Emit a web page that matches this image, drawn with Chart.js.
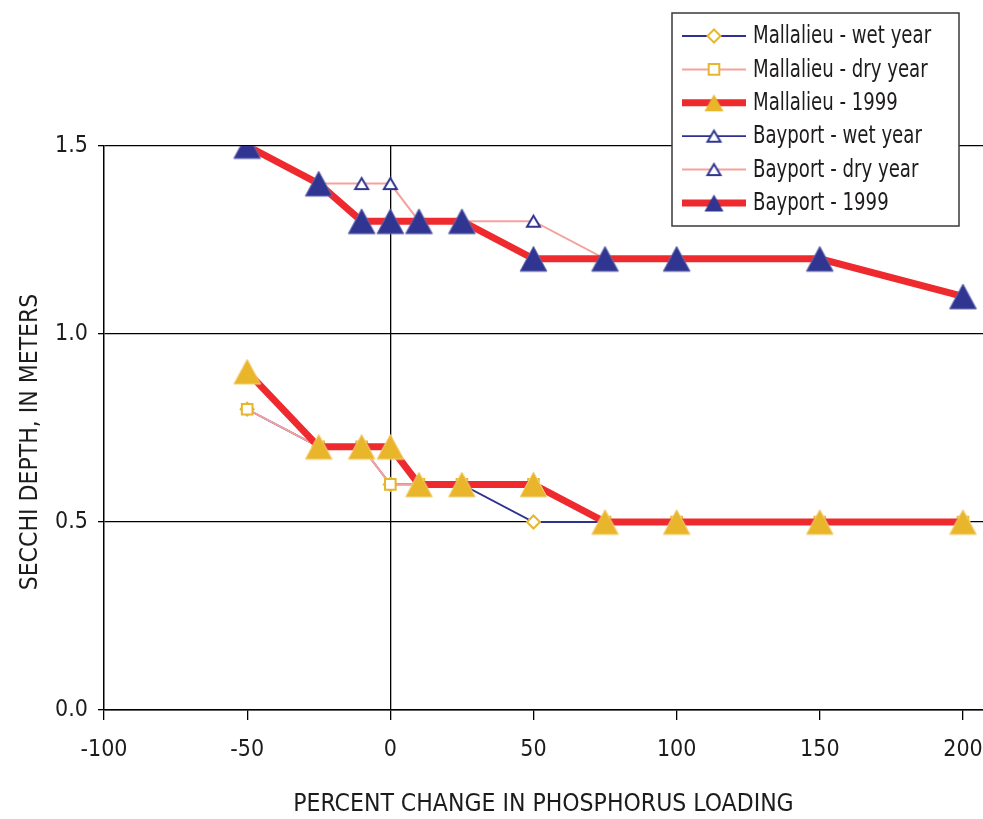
<!DOCTYPE html>
<html><head><meta charset="utf-8">
<script src="https://cdn.jsdelivr.net/npm/chart.js@4/dist/chart.umd.min.js"></script>
<style>html,body{margin:0;padding:0;background:#fff}#wrap{width:983px;height:819px;position:relative}</style>
</head><body><div id="wrap"><canvas id="c" width="983" height="819"></canvas></div>
<script>
const xValues = [-50, -25, -10, 0, 10, 25, 50, 75, 100, 150, 200];
const mallalieuWet = [0.8, 0.7, 0.7, 0.6, 0.6, 0.6, 0.5, 0.5, 0.5, 0.5, 0.5];
const mallalieuDry = [0.8, 0.7, 0.7, 0.6, 0.6, 0.6, 0.6, 0.5, 0.5, 0.5, 0.5];
const mallalieu1999 = [0.9, 0.7, 0.7, 0.7, 0.6, 0.6, 0.6, 0.5, 0.5, 0.5, 0.5];
const bayportWet = [1.5, 1.4, 1.3, 1.3, 1.3, 1.3, 1.2, 1.2, 1.2, 1.2, 1.1];
const bayportDry = [1.5, 1.4, 1.4, 1.4, 1.3, 1.3, 1.3, 1.2, 1.2, 1.2, 1.1];
const bayport1999 = [1.5, 1.4, 1.3, 1.3, 1.3, 1.3, 1.2, 1.2, 1.2, 1.2, 1.1];
const seriesNames = ['Mallalieu - wet year', 'Mallalieu - dry year', 'Mallalieu - 1999',
                     'Bayport - wet year', 'Bayport - dry year', 'Bayport - 1999'];
const xTickValues = [-100, -50, 0, 50, 100, 150, 200];
const yTickValues = [0, 0.5, 1.0, 1.5];
const xTitle = 'PERCENT CHANGE IN PHOSPHORUS LOADING';
const yTitle = 'SECCHI DEPTH, IN METERS';

const FONT = '"DejaVu Sans Condensed", "DejaVu Sans", sans-serif';
const TEXT = '#1E1B1C';
const RED = '#EE2A2F', NAVY = '#2F3590', GOLD = '#E8B52B', PINK = '#F5A29E', BLUE = '#2E3192';

// triangle marker images (centered on the data point)
function makeTri(w, h, fill, stroke, lw) {
  const pad = Math.ceil(lw) + 1;
  const c = document.createElement('canvas');
  c.width = w + 2 * pad; c.height = h + 2 * pad;
  const g = c.getContext('2d');
  g.beginPath();
  g.moveTo(pad + w / 2, pad);
  g.lineTo(pad + w, pad + h);
  g.lineTo(pad, pad + h);
  g.closePath();
  g.fillStyle = fill; g.fill();
  if (lw > 0) { g.lineJoin = 'miter'; g.strokeStyle = stroke; g.lineWidth = lw; g.stroke(); }
  return c;
}
const triGoldBig = makeTri(27, 25, GOLD, '#F3D585', 1);
const triNavyBig = makeTri(27, 25, NAVY, '#6A6FB0', 1);
const triOpen = makeTri(13, 11, '#fff', NAVY, 2);
const triGoldLeg = makeTri(19, 17, GOLD, GOLD, 0);
const triNavyLeg = makeTri(19, 17, NAVY, NAVY, 0);

function pts(vals) { return xValues.map((x, i) => ({x: x, y: vals[i]})); }
function ds(label, vals, o) {
  return Object.assign({label, data: pts(vals), tension: 0, fill: false, showLine: true}, o);
}

const datasets = [
  ds(seriesNames[0], mallalieuWet, {borderColor: BLUE, borderWidth: 1.8, pointStyle: 'rectRot', pointRadius: 6.5,
     pointBackgroundColor: '#fff', pointBorderColor: GOLD, pointBorderWidth: 2, order: 2}),
  ds(seriesNames[1], mallalieuDry, {borderColor: PINK, borderWidth: 2, pointStyle: 'rect', pointRadius: 7.5,
     pointBackgroundColor: '#fff', pointBorderColor: GOLD, pointBorderWidth: 2, order: 1}),
  ds(seriesNames[2], mallalieu1999, {borderColor: RED, borderWidth: 7, pointStyle: triGoldBig, pointRadius: 13,
     pointBackgroundColor: GOLD, pointBorderColor: GOLD, pointBorderWidth: 1, order: 0, legendStyle: triGoldLeg}),
  ds(seriesNames[3], bayportWet, {borderColor: BLUE, borderWidth: 1.8, pointStyle: triOpen, pointRadius: 7,
     pointBackgroundColor: '#fff', pointBorderColor: NAVY, pointBorderWidth: 2, order: 2}),
  ds(seriesNames[4], bayportDry, {borderColor: PINK, borderWidth: 2, pointStyle: triOpen, pointRadius: 7,
     pointBackgroundColor: '#fff', pointBorderColor: NAVY, pointBorderWidth: 2, order: 1}),
  ds(seriesNames[5], bayport1999, {borderColor: RED, borderWidth: 7, pointStyle: triNavyBig, pointRadius: 13,
     pointBackgroundColor: NAVY, pointBorderColor: NAVY, pointBorderWidth: 1, order: 0, legendStyle: triNavyLeg})
];

const boxLegend = {
  id: 'boxLegend',
  afterDraw(chart) {
    const ctx = chart.ctx;
    const L = 672, T = 13, W = 287, H = 213;
    ctx.save();
    ctx.fillStyle = '#fff';
    ctx.fillRect(L, T, W, H);
    ctx.strokeStyle = '#3a3a3a';
    ctx.lineWidth = 1.5;
    ctx.strokeRect(L, T, W, H);
    chart.data.datasets.forEach((d, i) => {
      const y = 36 + i * 33.4;
      ctx.strokeStyle = d.borderColor;
      ctx.lineWidth = d.borderWidth;
      ctx.beginPath();
      ctx.moveTo(682, y);
      ctx.lineTo(746, y);
      ctx.stroke();
      ctx.fillStyle = d.pointBackgroundColor;
      ctx.strokeStyle = d.pointBorderColor;
      ctx.lineWidth = d.pointBorderWidth;
      Chart.helpers.drawPoint(ctx, {pointStyle: d.legendStyle || d.pointStyle, radius: d.pointRadius,
        rotation: 0, borderWidth: d.pointBorderWidth}, 714, y);
      ctx.save();
      ctx.translate(753, y + 1);
      ctx.scale(0.84, 1);
      ctx.fillStyle = TEXT;
      ctx.font = '24px ' + FONT;
      ctx.textBaseline = 'middle';
      ctx.textAlign = 'left';
      ctx.fillText(d.label, 0, 0);
      ctx.restore();
    });
    ctx.restore();
  }
};

new Chart(document.getElementById('c'), {
  type: 'scatter',
  data: {datasets},
  plugins: [boxLegend],
  options: {
    responsive: false,
    devicePixelRatio: 1,
    animation: false,
    layout: {autoPadding: false, padding: {top: 146, left: 0, right: 0, bottom: 0}},
    plugins: {legend: {display: false}, tooltip: {enabled: false}},
    scales: {
      x: {
        type: 'linear', min: -100, max: 207,
        afterBuildTicks: (s) => { s.ticks = xTickValues.map(v => ({value: v})); },
        afterFit: (s) => { s.height = 109; s.paddingRight = 0; s.paddingLeft = 0; },
        ticks: {includeBounds: false, color: TEXT, padding: 16, maxRotation: 0,
                font: {family: FONT, size: 23}},
        grid: {color: (c) => (c.tick && c.tick.value === 0 ? '#000' : 'rgba(0,0,0,0)'),
               tickColor: '#000', tickLength: 10, lineWidth: 1.3, drawOnChartArea: true},
        border: {color: '#000', width: 1.5},
        title: {display: true, text: xTitle, color: TEXT, padding: {top: 0, bottom: 2},
                font: {family: FONT, size: 24.5, lineHeight: 1}}
      },
      y: {
        type: 'linear', min: 0, max: 1.5,
        afterBuildTicks: (s) => { s.ticks = yTickValues.map(v => ({value: v})); },
        afterFit: (s) => { s.width = 104; },
        ticks: {color: TEXT, padding: 10, callback: (v) => Number(v).toFixed(1),
                font: {family: FONT, size: 23}},
        grid: {color: '#000', tickColor: '#000', tickLength: 6, lineWidth: 1.3},
        border: {color: '#000', width: 1.5},
        title: {display: true, text: yTitle + '    ', color: TEXT, padding: {top: 18, bottom: 0},
                font: {family: FONT, size: 24.5, lineHeight: 1}}
      }
    }
  }
});
</script></body></html>
